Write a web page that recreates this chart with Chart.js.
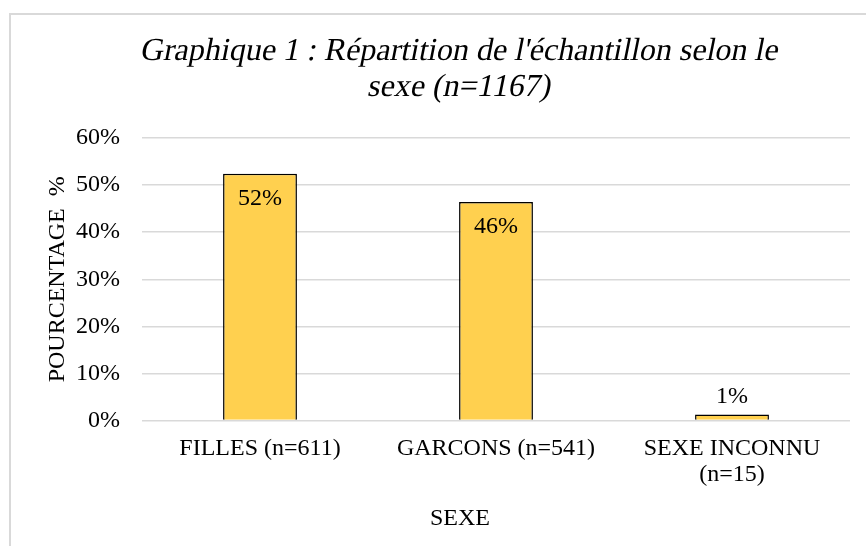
<!DOCTYPE html>
<html>
<head>
<meta charset="utf-8">
<script src="https://cdn.jsdelivr.net/npm/chart.js@4.4.0/dist/chart.umd.min.js"></script>
<style>
  html, body { margin: 0; padding: 0; background: #fff; overflow: hidden; }
  #frame { position: absolute; left: 9px; top: 13px; width: 900px; height: 600px; border: 2px solid #d9d9d9; }
  #chart { position: absolute; left: 0; top: 0; }
</style>
</head>
<body>
<div id="frame"></div>
<canvas id="chart" width="866" height="546"></canvas>
<script>
const categories = [['FILLES (n=611)'], ['GARCONS (n=541)'], ['SEXE INCONNU', '(n=15)']];
const percentages = [52.4, 46.4, 1.3];
const valueLabels = ['52%', '46%', '1%'];
const yTicks = [0, 10, 20, 30, 40, 50, 60];

const titleLines = ["Graphique 1 : Répartition de l'échantillon selon le", 'sexe (n=1167)'];
const xTitle = 'SEXE';
const yTitle = 'POURCENTAGE  %';

const serif = '"Liberation Serif", "Times New Roman", serif';

// titles and bar labels drawn by hand, centred like the Excel original
const extras = {
  id: 'extras',
  afterDatasetsDraw(chart) {
    const c = chart.ctx;
    c.save();
    c.fillStyle = '#000';
    c.textAlign = 'center';
    c.textBaseline = 'middle';
    // no serif italic face here, so slant the regular one
    c.font = '30px ' + serif;
    const size = Math.min(32, 30 * 646 / c.measureText(titleLines[0]).width);
    c.font = size + 'px ' + serif;
    [[titleLines[0], 52], [titleLines[1], 88]].forEach(([t, y]) => {
      c.save();
      c.translate(460, y);
      c.transform(1, 0, -0.2, 1, 0, 0);
      c.fillText(t, 0, 0);
      c.restore();
    });
    c.font = '24px ' + serif;
    c.fillText(xTitle, 460, 519);
    chart.getDatasetMeta(0).data.forEach((bar, i) => {
      const h = bar.base - bar.y;
      const y = h > 40 ? bar.y + 25 : bar.y - 18;
      c.fillText(valueLabels[i], bar.x, y);
    });
    c.restore();
  }
};

new Chart(document.getElementById('chart'), {
  type: 'bar',
  data: {
    labels: categories,
    datasets: [{
      data: percentages,
      backgroundColor: '#FFD04F',
      borderColor: '#000',
      borderWidth: 1.5,
      barPercentage: 0.626,
      categoryPercentage: 0.5
    }]
  },
  plugins: [extras],
  options: {
    responsive: false,
    animation: false,
    layout: { padding: { top: 138, right: 16, bottom: 51, left: 40 } },
    plugins: {
      legend: { display: false },
      tooltip: { enabled: false }
    },
    scales: {
      x: {
        grid: { display: false },
        border: { display: false },
        ticks: { color: '#000', font: { family: serif, size: 24, lineHeight: 1.05 }, padding: 8, maxRotation: 0 }
      },
      y: {
        min: 0,
        max: 60,
        afterBuildTicks: s => { s.ticks = yTicks.map(v => ({ value: v })); },
        afterFit: s => { s.width = 102; },
        grid: { color: '#d9d9d9', lineWidth: 1.5, drawTicks: false },
        border: { display: false },
        ticks: { color: '#000', font: { family: serif, size: 24 }, padding: 22, callback: v => v + '%' },
        title: { display: true, text: yTitle, color: '#000', font: { family: serif, size: 24 }, padding: 3 }
      }
    }
  }
});
</script>
</body>
</html>
